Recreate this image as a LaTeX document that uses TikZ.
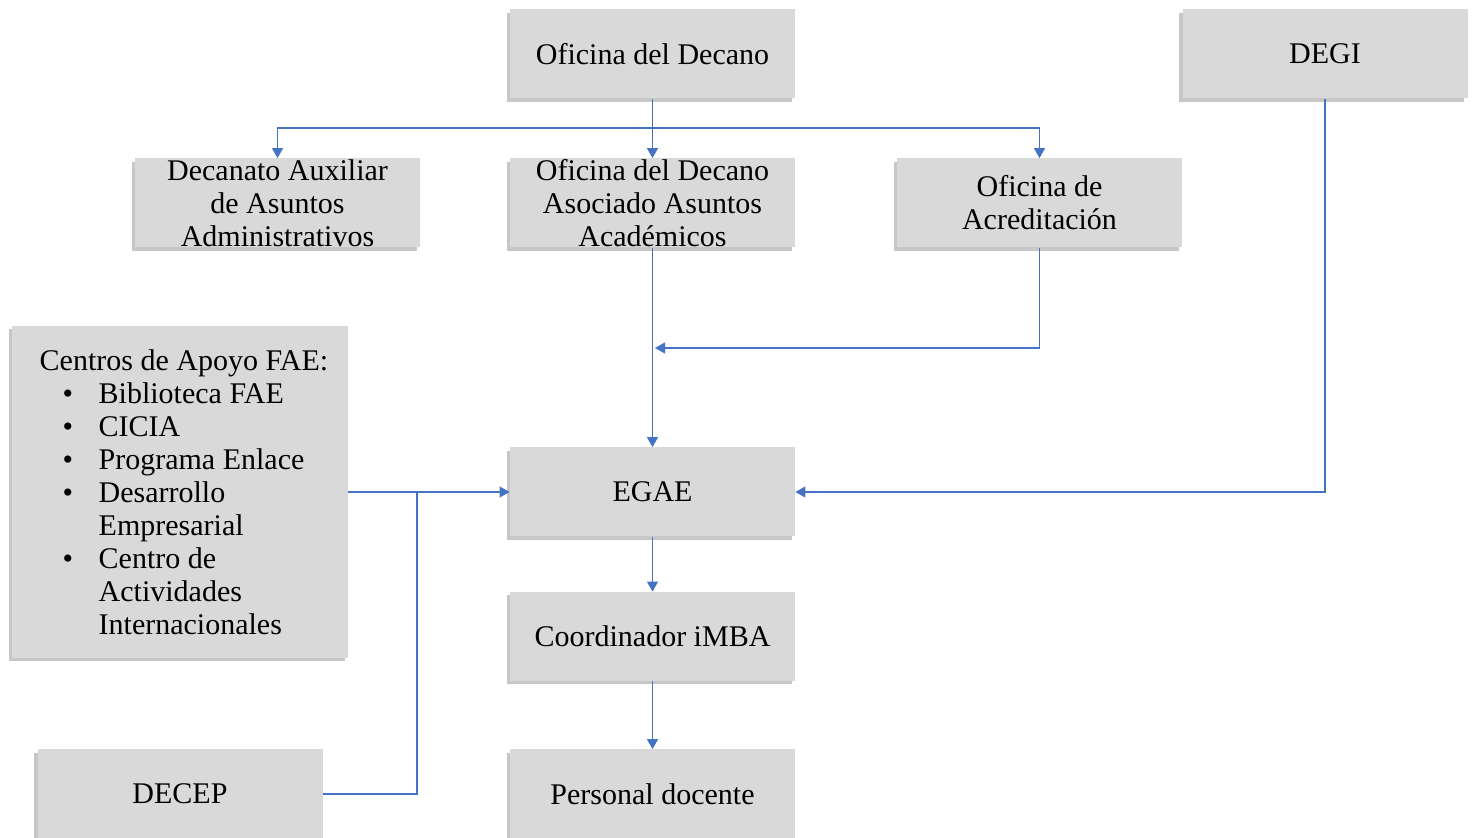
\documentclass[tikz,border=0pt]{standalone}
\usepackage{fontspec}
\setmainfont{Liberation Serif}
\usetikzlibrary{arrows.meta,shadows}

\colorlet{box area}{black!15}
\definecolor{link blue}{HTML}{4472C4}
\tikzset{
  boxshadow/.style={drop shadow={shadow xshift=-1.6pt, shadow yshift=-1.6pt, fill=black, opacity=0.22}}
  }
\tikzstyle{box} = [rectangle, fill=box area, boxshadow, minimum width=142.5pt, minimum height=44.5pt, inner sep=0pt, align=center, font=\fontsize{15pt}{16.5pt}\selectfont]
\tikzstyle{link} = [draw, link blue, line width=0.6pt, -{Triangle[length=5pt,width=5.5pt]}]
\tikzstyle{plain link} = [draw, link blue, line width=0.6pt, -]

\begin{document}
\begin{tikzpicture}[x=0.5pt,y=-0.5pt]
    \useasboundingbox (0,0) rectangle (1474,838);

    % The offices
    \foreach \pos/\name/\txt in {{(652.5,54)/decano/Oficina del Decano}, {(1325,54)/degi/DEGI}, {(277.5,203)/aux/Decanato Auxiliar\\de Asuntos\\Administrativos}, {(652.5,203)/asoc/Oficina del Decano\\Asociado Asuntos\\Académicos}, {(1039.5,203)/acred/Oficina de\\Acreditación}, {(652.5,492)/egae/EGAE}, {(652.5,636.5)/imba/Coordinador iMBA}, {(180,794)/decep/DECEP}, {(652.5,794)/docente/Personal docente}} {
      \node[box] (\name) at \pos {\txt};
    }

    % The support centres
    \node[box, minimum width=168pt, minimum height=166pt, align=left] (centros) at (180,492) {\hspace*{4pt}Centros de Apoyo FAE:\\
      \hspace*{15.5pt}\makebox[18pt][l]{\textbullet}Biblioteca FAE\\
      \hspace*{15.5pt}\makebox[18pt][l]{\textbullet}CICIA\\
      \hspace*{15.5pt}\makebox[18pt][l]{\textbullet}Programa Enlace\\
      \hspace*{15.5pt}\makebox[18pt][l]{\textbullet}Desarrollo\\
      \hspace*{33.5pt}Empresarial\\
      \hspace*{15.5pt}\makebox[18pt][l]{\textbullet}Centro de\\
      \hspace*{33.5pt}Actividades\\
      \hspace*{33.5pt}Internacionales};

    % The connections between them
    \coordinate (bus) at (652.5,128);
    \coordinate (merge) at (655,348);
    \coordinate (tap) at (417,492);

    \path[link] (decano) -- (asoc);
    \path[link] (bus) -| (aux.north);
    \path[link] (bus) -| (acred.north);
    \path[link] (asoc) -- (egae);
    \path[link] (acred.south) |- (merge);
    \path[link] (degi.south) |- (egae.east);
    \path[link] (centros.east) -- (egae.west);
    \path[plain link] (decep.east) -| (tap);
    \path[link] (egae) -- (imba);
    \path[link] (imba) -- (docente);

\end{tikzpicture}
\end{document}
